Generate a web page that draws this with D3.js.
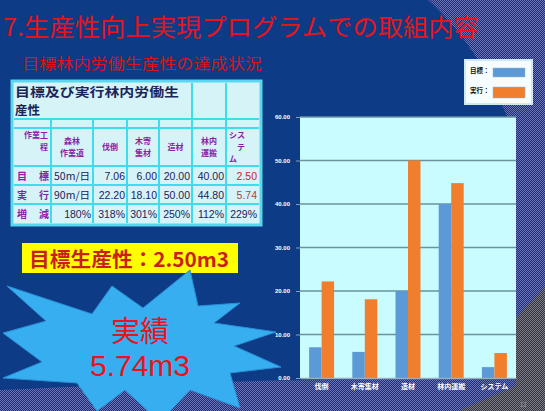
<!DOCTYPE html>
<html>
<head>
<meta charset="utf-8">
<script src="https://cdn.jsdelivr.net/npm/d3@7"></script>
<style>
  body { margin: 0; background: #0d3b85; }
  text { font-family: "Noto Sans CJK JP", "Liberation Sans", sans-serif; }
</style>
</head>
<body>
<div id="main_div"></div>
<script>
// chart data
var categories = ["伐倒", "木寄集材", "造材", "林内運搬", "システム"];
var seriesNames = ["目標", "実行"];
var targetValues = [7.06, 6.00, 20.00, 40.00, 2.50];
var actualValues = [22.20, 18.10, 50.00, 44.80, 5.74];
var yTicks = [0, 10, 20, 30, 40, 50, 60];

// table data
var tableTitle = ["目標及び実行林内労働生", "産性"];
var tableHeaders = [["作業工", "程"], ["森林", "作業道"], ["伐倒"], ["木寄", "集材"], ["造材"], ["林内", "運搬"], ["シス", "　テ", "ム"]];
var rowLabels = ["目　標", "実　行", "増　減"];
var roadValues = ["50m/日", "90m/日"];
var changeLabels = ["180%", "318%", "301%", "250%", "112%", "229%"];

var W = 545, H = 411;
var svg = d3.select("#main_div").append("svg")
    .attr("width", W).attr("height", H)
    .style("display", "block");

var defs = svg.append("defs");
var dots = defs.append("pattern").attr("id", "dots")
    .attr("width", 2).attr("height", 2).attr("patternUnits", "userSpaceOnUse");
dots.append("rect").attr("width", 2).attr("height", 2).attr("fill", "#1f2b74");
dots.append("rect").attr("width", 1).attr("height", 1).attr("fill", "#6a76b6");
dots.append("rect").attr("x", 1).attr("y", 1).attr("width", 1).attr("height", 1).attr("fill", "#6a76b6");
var gdots = defs.append("pattern").attr("id", "gdots")
    .attr("width", 2).attr("height", 2).attr("patternUnits", "userSpaceOnUse");
gdots.append("rect").attr("width", 2).attr("height", 2).attr("fill", "#35353f");
gdots.append("rect").attr("width", 1).attr("height", 1).attr("fill", "#7a7a84");
gdots.append("rect").attr("x", 1).attr("y", 1).attr("width", 1).attr("height", 1).attr("fill", "#7a7a84");

// background
svg.append("rect").attr("width", W).attr("height", H).attr("fill", "url(#dots)");
svg.append("path")
    .attr("d", "M0,0 L428,0 C462,32 492,72 516,140 L516,380 C380,378 200,380 0,390 Z")
    .attr("fill", "#0d3b85");
svg.append("path")
    .attr("d", "M545,287 L516,318 L516,386 L458,411 L545,411 Z")
    .attr("fill", "url(#gdots)");

// titles
svg.append("text").attr("x", 3).attr("y", 36)
    .attr("font-size", 24).attr("fill", "#e8141c")
    .attr("textLength", 476).attr("lengthAdjust", "spacingAndGlyphs")
    .text("7.生産性向上実現プログラムでの取組内容");
svg.append("text").attr("x", 22).attr("y", 69)
    .attr("font-size", 15).attr("fill", "#d8141c")
    .attr("textLength", 240).attr("lengthAdjust", "spacingAndGlyphs")
    .text("目標林内労働生産性の達成状況");

// table
var colX = [14, 51, 93, 127, 159, 192, 226, 259];
var rowY = [83, 119, 128, 166, 185, 204, 223];
var tbl = svg.append("g");
tbl.append("rect").attr("x", colX[0] - 2).attr("y", rowY[0] - 2)
    .attr("width", colX[7] - colX[0] + 4).attr("height", rowY[6] - rowY[0] + 4)
    .attr("fill", "#d6f4f7").attr("stroke", "#5ad6f0").attr("stroke-width", 3);
var lineColor = "#3fdcec";
function hline(y, x0, x1) {
  tbl.append("line").attr("x1", x0).attr("x2", x1).attr("y1", y).attr("y2", y)
      .attr("stroke", lineColor).attr("stroke-width", 2);
}
function vline(x, y0, y1) {
  tbl.append("line").attr("x1", x).attr("x2", x).attr("y1", y0).attr("y2", y1)
      .attr("stroke", lineColor).attr("stroke-width", 2);
}
rowY.slice(1, 6).forEach(function(y) { hline(y, colX[0], colX[7]); });
colX.slice(1, 7).forEach(function(x, i) {
  vline(x, i >= 4 ? rowY[0] : rowY[1], rowY[6]);
});
tableTitle.forEach(function(t, i) {
  var tt = tbl.append("text").attr("x", colX[0] + 1).attr("y", rowY[0] + 14 + i * 18)
      .attr("font-size", 12.5).attr("font-weight", "bold").attr("fill", "#1c2458")
      .text(t);
  if (i === 0) tt.attr("textLength", 164).attr("lengthAdjust", "spacingAndGlyphs");
});
var headColor = "#8a1ea6";
tableHeaders.forEach(function(lines, i) {
  var cx = (colX[i] + colX[i + 1]) / 2;
  if (i === 0) {
    tbl.append("text").attr("x", colX[1] - 3).attr("y", rowY[2] + 10).attr("text-anchor", "end")
        .attr("font-size", 8).attr("font-weight", "bold").attr("fill", headColor).text(lines[0]);
    tbl.append("text").attr("x", colX[1] - 3).attr("y", rowY[2] + 22).attr("text-anchor", "end")
        .attr("font-size", 8).attr("font-weight", "bold").attr("fill", headColor).text(lines[1]);
    return;
  }
  var lh = 12;
  var y0 = (rowY[2] + rowY[3]) / 2 - (lines.length - 1) * lh / 2 + 3;
  lines.forEach(function(t, j) {
    tbl.append("text").attr("x", lines.length === 3 ? colX[i] + 3 : cx).attr("y", y0 + j * lh)
        .attr("text-anchor", lines.length === 3 ? "start" : "middle")
        .attr("font-size", 8).attr("font-weight", "bold").attr("fill", headColor).text(t);
  });
});
rowLabels.forEach(function(t, r) {
  tbl.append("text").attr("x", colX[0] + 3).attr("y", rowY[3 + r] + 14)
      .attr("font-size", 10).attr("font-weight", "bold").attr("fill", headColor)
      .attr("textLength", 32).attr("lengthAdjust", "spacing").text(t);
});
var fmt = d3.format(".2f");
var rows = [
  [roadValues[0]].concat(targetValues.map(fmt)),
  [roadValues[1]].concat(actualValues.map(fmt)),
  changeLabels
];
rows.forEach(function(vals, r) {
  vals.forEach(function(v, c) {
    var col = c + 1;
    var isRoad = (c === 0 && r < 2);
    tbl.append("text")
        .attr("x", isRoad ? colX[col] + 3 : colX[col + 1] - 2)
        .attr("y", rowY[3 + r] + 14)
        .attr("text-anchor", isRoad ? "start" : "end")
        .style("font-family", isRoad ? null : "'Liberation Sans', sans-serif")
        .attr("font-size", 10.5)
        .attr("fill", (col === 6 && r < 2) ? (r === 0 ? "#d0202a" : "#b0403a") : "#1c2060")
        .text(v);
  });
});

// yellow box
svg.append("rect").attr("x", 22).attr("y", 243).attr("width", 216).attr("height", 30)
    .attr("fill", "#ffff00");
svg.append("text").attr("x", 29).attr("y", 267)
    .attr("font-size", 20).attr("font-weight", "bold").attr("fill", "#c81f1a")
    .attr("textLength", 200).attr("lengthAdjust", "spacingAndGlyphs")
    .text("目標生産性：2.50m3");

// starburst
var starPts = [[7,286],[92,314],[112,286],[143,308],[190,270],[198,306],[240,303],[214,323],[276,332],[234,346],[281,367],[230,373],[240,408],[190,390],[160,422],[125,390],[97,411],[77,383],[3,378],[42,362],[3,333],[46,321]];
svg.append("path")
    .attr("d", d3.line()(starPts) + "Z")
    .attr("fill", "#36aef0").attr("stroke", "#2b8fd6").attr("stroke-width", 1);
svg.append("text").attr("x", 140).attr("y", 342).attr("text-anchor", "middle")
    .attr("font-size", 29).attr("fill", "#e8141c").text("実績");
svg.append("text").attr("x", 140).attr("y", 376).attr("text-anchor", "middle")
    .attr("font-size", 30).attr("fill", "#e8141c")
    .style("font-family", "'Liberation Sans', sans-serif")
    .text("5.74m3");

// bar chart
var plot = {left: 300, right: 516, top: 117, bottom: 378};
var x = d3.scaleBand().domain(categories).range([plot.left, plot.right]);
var xSub = d3.scaleBand().domain(seriesNames).range([0, x.bandwidth()]).paddingOuter(0.73);
var y = d3.scaleLinear().domain([0, 60]).range([plot.bottom, plot.top]);
var colors = {"目標": "#5b9ad6", "実行": "#f07e2c"};

svg.append("rect").attr("x", plot.left).attr("y", plot.top)
    .attr("width", plot.right - plot.left).attr("height", plot.bottom - plot.top)
    .attr("fill", "#c8fcff");

var yAxis = svg.append("g").attr("transform", "translate(" + plot.left + ",0)")
    .call(d3.axisLeft(y).tickValues(yTicks).tickFormat(fmt).tickSize(4).tickPadding(6));
yAxis.select(".domain").remove();
yAxis.selectAll(".tick line").attr("stroke", "#8aa0b0");
yAxis.selectAll(".tick text")
    .attr("fill", "#ffffff").attr("font-size", 6).attr("font-weight", "bold")
    .style("font-family", "'Liberation Sans', sans-serif");

svg.append("g").selectAll("line").data(yTicks.slice(1)).enter().append("line")
    .attr("x1", plot.left).attr("x2", plot.right)
    .attr("y1", function(d) { return y(d); }).attr("y2", function(d) { return y(d); })
    .attr("stroke", "#6b939e").attr("stroke-width", 1.5);

var data = categories.map(function(c, i) {
  return {cat: c, vals: [{s: seriesNames[0], v: targetValues[i]}, {s: seriesNames[1], v: actualValues[i]}]};
});
svg.append("g").selectAll("g").data(data).enter().append("g")
    .attr("transform", function(d) { return "translate(" + x(d.cat) + ",0)"; })
  .selectAll("rect").data(function(d) { return d.vals; }).enter().append("rect")
    .attr("x", function(d) { return xSub(d.s); })
    .attr("width", xSub.bandwidth())
    .attr("y", function(d) { return y(d.v); })
    .attr("height", function(d) { return y(0) - y(d.v); })
    .attr("fill", function(d) { return colors[d.s]; });

var xAxis = svg.append("g").attr("transform", "translate(0," + plot.bottom + ")")
    .call(d3.axisBottom(x).tickSize(0).tickPadding(6));
xAxis.select(".domain").attr("stroke", "#9ab0c0").attr("stroke-width", 1.5);
xAxis.selectAll(".tick text")
    .attr("fill", "#ffffff").attr("font-size", 7).attr("font-weight", "bold");

// legend
var lg = svg.append("g");
lg.append("rect").attr("x", 465).attr("y", 60).attr("width", 67).attr("height", 44)
    .attr("fill", "#f6fdff").attr("stroke", "#cdeaf2").attr("stroke-width", 2);
seriesNames.forEach(function(s, i) {
  lg.append("text").attr("x", 470).attr("y", 73 + i * 20)
      .attr("font-size", 6.5).attr("font-weight", "bold").attr("fill", "#111").text(s + "：");
  lg.append("rect").attr("x", 493).attr("y", 68 + i * 19).attr("width", 32).attr("height", i ? 11 : 9)
      .attr("fill", colors[s]).attr("stroke", "#a0b8c8").attr("stroke-width", 0.5);
});

svg.append("text").attr("x", 520).attr("y", 407)
    .attr("font-size", 6).attr("fill", "#9aa0b0").text("12");
</script>
</body>
</html>
